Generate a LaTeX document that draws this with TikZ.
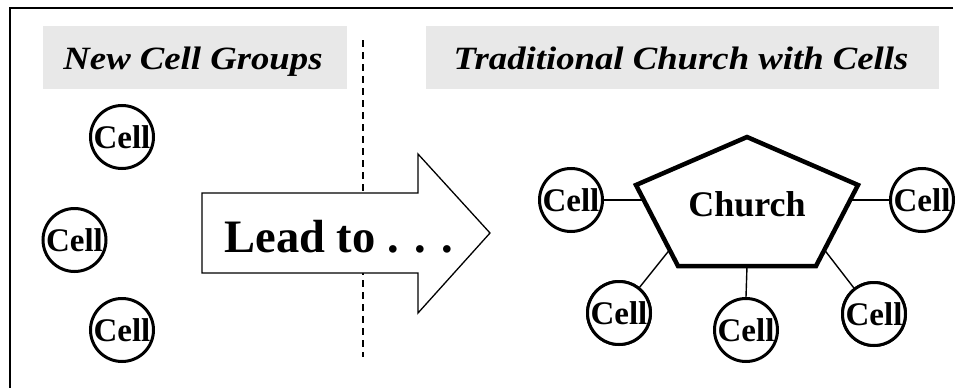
\documentclass[tikz,border=0pt]{standalone}
\usepackage{fontspec}
\setmainfont{Liberation Serif}
\usetikzlibrary{calc}
\definecolor{titlegray}{HTML}{E8E8E8}
\tikzset{
  cell/.style={circle, draw, line width=3pt, minimum size=63pt, inner sep=0pt,
    font=\fontsize{33}{33}\selectfont\bfseries},
  titletext/.style={font=\fontsize{32.5}{32.5}\selectfont\bfseries\itshape, anchor=base},
  link/.style={line width=1.4pt},
  frameline/.style={line width=2pt},
}
\begin{document}
\begin{tikzpicture}[x=1pt,y=-1pt]
\useasboundingbox (0,0) rectangle (959,388);
% frame (top and left only)
\coordinate (fTL) at (10,8);
\coordinate (fTR) at (953,8);
\coordinate (fBL) at (10,388);
\draw[frameline] (fTR) -- (fTL) -- (fBL);
% title boxes
\fill[titlegray] (43,26) rectangle (347,89);
\fill[titlegray] (426,26) rectangle (939,89);
\node[titletext] (t1) at (193,69) {\scalebox{1.13}[1]{New Cell Groups}};
\node[titletext] (t2) at (681,69) {\scalebox{1.13}[1]{Traditional Church with Cells}};
% dashed divider
\coordinate (dTop) at (363,40);
\coordinate (dBot) at (363,357);
\draw[line width=1.4pt, dash pattern=on 7pt off 5pt] (dTop) -- (dBot);
% block arrow
\draw[line width=1.3pt, fill=white]
  (202,193) -- (418,193) -- (418,154) -- (490,233) -- (418,313) -- (418,273) -- (202,273) -- cycle;
\node[anchor=base west, font=\fontsize{46.5}{46.5}\selectfont\bfseries] (lead) at (221,252) {Lead to . . .};
% left cells
\node[cell] (c1) at (122,137) {Cell};
\node[cell] (c2) at (74.5,240) {Cell};
\node[cell] (c3) at (122,330) {Cell};
% pentagon
\coordinate (T) at (747,137);
\coordinate (UL) at (636,185);
\coordinate (UR) at (858,185);
\coordinate (BL) at (678,266);
\coordinate (BR) at (816,266);
\draw[line width=4.5pt, line join=miter] (T) -- (UR) -- (BR) -- (BL) -- (UL) -- cycle;
\node[anchor=base, font=\fontsize{36}{36}\selectfont\bfseries] (church) at (747,216) {Church};
% right cells
\node[cell] (rl) at (571,200) {Cell};
\node[cell] (rr) at (922,200) {Cell};
\node[cell] (bl) at (619,313) {Cell};
\node[cell] (bm) at (746,330) {Cell};
\node[cell] (br) at (874,314) {Cell};
% attachment points on pentagon
\coordinate (pL) at ($(UL)!0.2!(BL)$);
\coordinate (pR) at ($(UR)!0.2!(BR)$);
\coordinate (pBL) at ($(UL)!0.8!(BL)$);
\coordinate (pBR) at ($(UR)!0.8!(BR)$);
\coordinate (pB) at ($(BL)!0.5!(BR)$);
\draw[link] (rl.east) -- (rl.east -| pL);
\draw[link] (rr.west) -- (rr.west -| pR);
\draw[link] (bl) -- (pBL);
\draw[link] (br) -- (pBR);
\draw[link] (bm.north) -- (pB);
% redraw cells above links
\node[cell, fill=white] at (bl) {Cell};
\node[cell, fill=white] at (br) {Cell};
\end{tikzpicture}
\end{document}
